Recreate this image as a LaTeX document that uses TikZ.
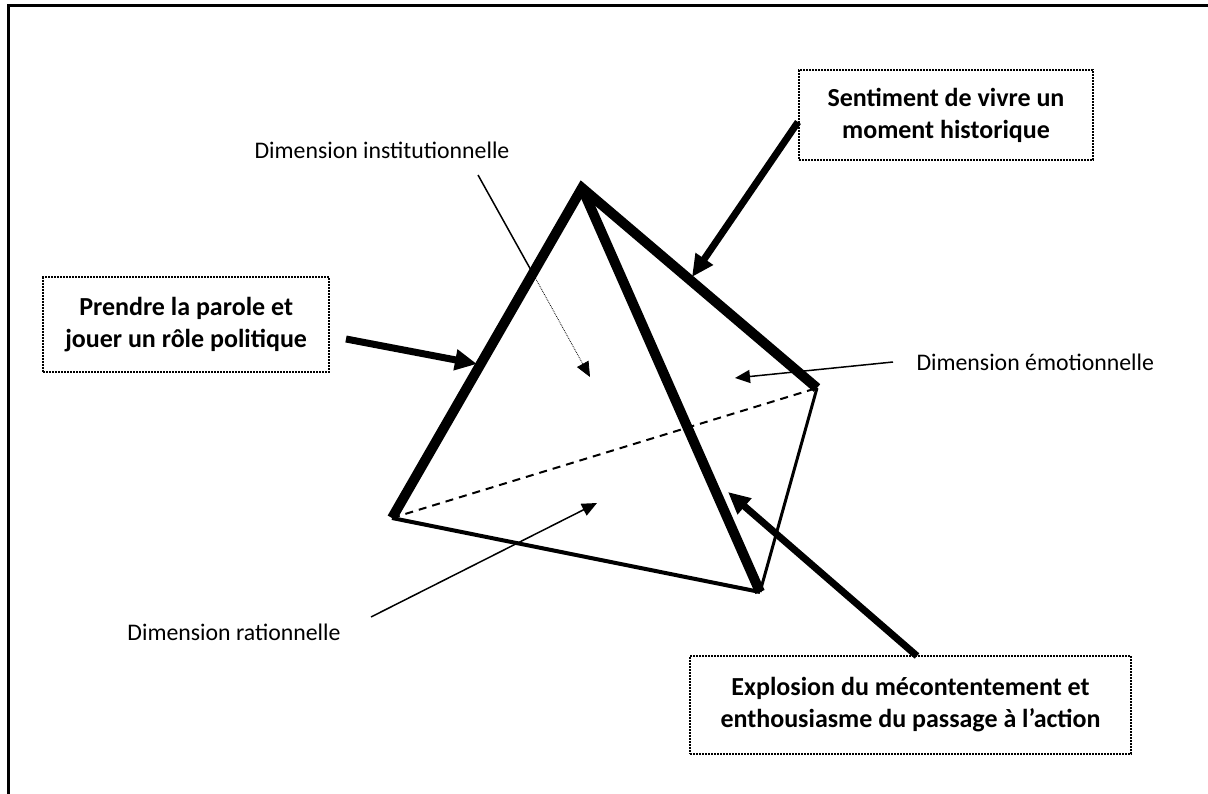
\documentclass[tikz,border=0pt]{standalone}
\usepackage{fontspec}
\setmainfont{Carlito}
\usetikzlibrary{arrows.meta}
\tikzset{
  notebox/.style={draw,densely dotted,line width=2pt,align=center,font=\fontsize{26}{32}\selectfont\bfseries,inner xsep=22pt},
  dimlabel/.style={font=\fontsize{23.8}{28}\selectfont},
  bigarrow/.style={line width=7pt,-{Triangle[length=22pt,width=20pt]}},
  thinarrow/.style={line width=1.5pt,-{Triangle[length=15pt,width=13pt]}}
}
\begin{document}
\begin{tikzpicture}[x=1pt,y=-1pt]
\useasboundingbox (0,0) rectangle (1208,794);
\clip (0,0) rectangle (1208,794);
\draw[line width=3pt] (8,800) -- (8,6) -- (1215,6);
% sommets
\coordinate (apex) at (582,188);
\coordinate (left) at (392,518);
\coordinate (right) at (817,388);
\coordinate (bottom) at (760,592);
\draw[line width=2pt,dashed,dash pattern=on 8pt off 6pt] (left) -- (right);
\draw[line width=4pt] (left) -- (bottom);
\draw[line width=3pt] (bottom) -- (right);
\draw[line width=10pt,line join=miter] (left) -- (apex) -- (right);
\draw[line width=10pt] (apex) -- (bottom);
% cadres
\node[notebox,minimum width=294pt,minimum height=90pt] (moment) at (946,115) {Sentiment de vivre un\\moment historique};
\node[notebox,minimum height=95pt,anchor=east] (parole) at (330,324.5) {Prendre la parole et\\jouer un rôle politique};
\node[notebox,minimum width=441pt,minimum height=98pt] (explosion) at (910.5,705) {Explosion du mécontentement et\\enthousiasme du passage à l’action};
\draw[bigarrow] (moment.west |- 0,122) -- (692,277);
\draw[bigarrow] (346,339) -- (477,364);
\draw[bigarrow] (917,656) -- (728,492);
% dimensions
\node[dimlabel] (inst) at (382,150) {Dimension institutionnelle};
\node[dimlabel,anchor=west] (emo) at (913,362) {Dimension émotionnelle};
\node[dimlabel] (ratio) at (234,632) {Dimension rationnelle};
\coordinate (inststart) at (478,175);
\coordinate (instcross) at (532,272);
\coordinate (insttip) at (590,377);
\draw[line width=1.5pt] (inststart) -- (instcross);
\draw[line width=0.8pt,densely dotted,-{Triangle[length=15pt,width=13pt]}] (instcross) -- (insttip);
\draw[thinarrow] (emo.west) ++(-20,0) -- (735,378);
\draw[thinarrow] (371,617) -- (597,503);
\end{tikzpicture}
\end{document}
